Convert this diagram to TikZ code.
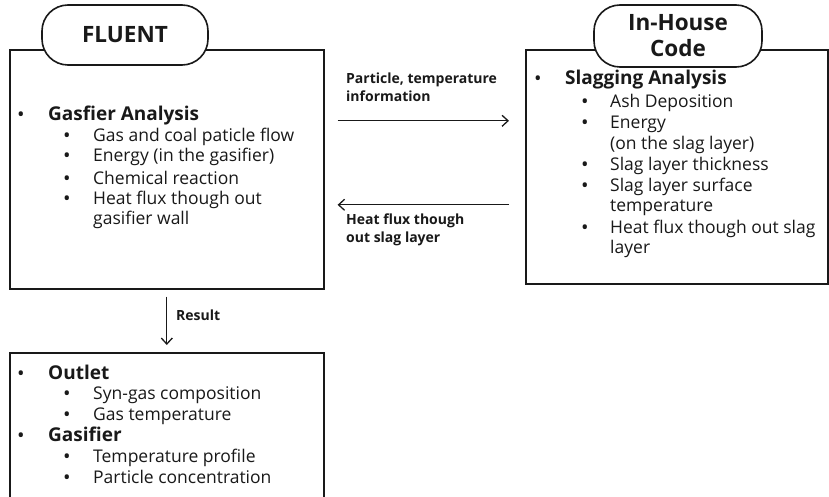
\documentclass[tikz,border=0pt]{standalone}
\usepackage{fontspec}
\setmainfont{Open Sans}
\usetikzlibrary{arrows,arrows.meta,positioning}
\definecolor{inkblack}{RGB}{25,25,25}

\tikzset{
  box/.style={draw=inkblack, line width=1.6pt, fill=white, anchor=north west, inner sep=0pt},
  pill/.style={draw=inkblack, line width=1.6pt, fill=white, rounded corners=26pt, align=center,
    font=\fontsize{22.5}{26}\selectfont\bfseries},
  flow/.style={-{Straight Barb[length=6pt,width=11pt]}, draw=inkblack, line width=1.3pt},
  head/.style={anchor=mid west, inner sep=0pt, font=\fontsize{19}{21}\selectfont\bfseries},
  itemtext/.style={anchor=mid west, inner sep=0pt, font=\fontsize{17.5}{20}\selectfont},
  dot/.style={anchor=mid, inner sep=0pt, yshift=-1pt, font=\fontsize{20}{22}\selectfont},
  lbl/.style={anchor=mid west, inner sep=0pt, font=\fontsize{14}{16}\selectfont\bfseries}
}

\begin{document}
\begin{tikzpicture}[x=1pt, y=-1pt, inkblack]
  \useasboundingbox (0,0) rectangle (829,497);
  \clip (0,0) rectangle (829,497);

  % boxes
  \node[box, minimum width=314pt, minimum height=239pt] (fluentbox) at (9,49) {};
  \node[box, minimum width=302pt, minimum height=234pt] (slagbox) at (525,49) {};
  \node[box, minimum width=314pt, minimum height=200pt] (resultbox) at (9,352) {};

  % titles
  \node[pill, minimum width=166pt, minimum height=60pt] (fluent) at (125,35) {FLUENT};
  \node[pill, minimum width=168pt, minimum height=62pt] (inhouse) at (678,36) {In-House\\Code};

  % FLUENT items
  \node[dot] (gasdot) at (21,118) {\textbullet};
  \node[head] (gas) at (48,118) {Gasfier Analysis};
  \foreach \y/\t/\b [count=\i] in {139/Gas and coal paticle flow/1, 159/Energy (in the gasifier)/1,
      182/Chemical reaction/1, 202/Heat flux though out/1, 222/gasifier wall/0}{
    \node[itemtext] (gas-\i) at (93,\y) {\t};
    \ifnum\b=1 \node[dot] (gasdot-\i) at (67,\y) {\textbullet}; \fi
  }

  % in-house items
  \node[dot] (slagdot) at (538,82) {\textbullet};
  \node[head] (slag) at (565,82) {Slagging Analysis};
  \foreach \y/\t/\b [count=\i] in {105/Ash Deposition/1, 126/Energy/1, 147/(on the slag layer)/0,
      168/Slag layer thickness/1, 189/Slag layer surface/1, 209/temperature/0,
      231/Heat flux though out slag/1, 251/layer/0}{
    \node[itemtext] (slag-\i) at (610,\y) {\t};
    \ifnum\b=1 \node[dot] (slagdot-\i) at (585,\y) {\textbullet}; \fi
  }

  % result items
  \node[dot] (outdot) at (21,377) {\textbullet};
  \node[head] (outlet) at (48,377) {Outlet};
  \node[dot] (gsfdot) at (21,439) {\textbullet};
  \node[head] (gasifier) at (48,439) {Gasifier};
  \foreach \y/\t [count=\i] in {397/Syn-gas composition, 418/Gas temperature,
      460/Temperature profile, 481/Particle concentration}{
    \node[itemtext] (res-\i) at (93,\y) {\t};
    \node[dot] (resdot-\i) at (67,\y) {\textbullet};
  }

  % connectors
  \path ([yshift=48.5pt]fluentbox.east) coordinate (tx);
  \path ([yshift=-35.5pt]fluentbox.east) coordinate (bx);
  \draw[flow, shorten <=13pt, shorten >=16pt] (tx) -- (tx -| slagbox.west);
  \draw[flow, shorten <=16pt, shorten >=13pt] (bx -| slagbox.west) -- (bx);
  \draw[flow, shorten <=7pt, shorten >=7pt] (fluentbox.south) -- (resultbox.north);

  \node[lbl] (info1) at (346,81) {Particle, temperature};
  \node[lbl] (info2) at (346,99) {information};
  \node[lbl] (heat1) at (346,222) {Heat flux though};
  \node[lbl] (heat2) at (346,240) {out slag layer};
  \node[lbl] (result) at (176,318) {Result};
\end{tikzpicture}
\end{document}
